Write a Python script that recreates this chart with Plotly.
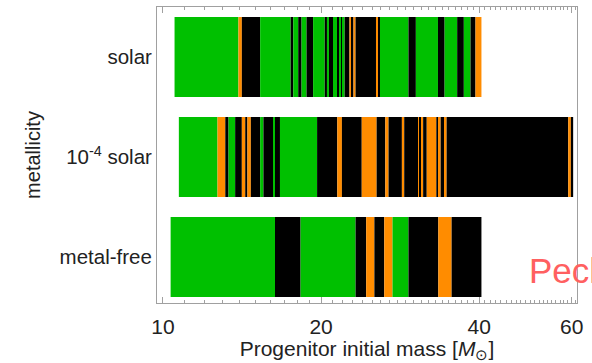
import plotly.graph_objects as go

# Outcome codes: G = explosion (green), B = black hole (black), O = fallback (orange)
categories = ["metal-free", "10<sup>-4</sup> solar", "solar"]

solar_edges = [10.52, 13.92, 14.13, 15.31, 17.50, 17.70, 18.09, 18.36, 18.76, 19.31,
               20.32, 20.52, 20.70, 21.07, 21.53, 21.69, 21.85, 22.00, 22.17, 22.65,
               22.88, 23.05, 23.26, 25.44, 25.73, 25.89, 29.33, 30.30, 33.38, 34.37,
               36.31, 37.39, 38.50, 39.35, 40.39]
solar_outcome = ["G", "O", "B", "G", "B", "G", "B", "G", "B", "G",
                 "B", "G", "B", "G", "B", "G", "B", "G", "B", "O",
                 "B", "O", "B", "O", "B", "G", "B", "G", "B", "G",
                 "B", "G", "B", "O"]

lowz_edges = [10.72, 12.70, 13.14, 13.33, 13.72, 14.13, 14.34, 14.48, 14.70, 15.31,
              15.53, 16.22, 16.34, 16.70, 19.65, 21.47, 21.91, 23.90, 25.51, 26.50,
              26.88, 28.50, 28.79, 30.64, 30.83, 31.04, 31.28, 31.78, 33.14, 33.53,
              33.78, 34.37, 34.67, 59.08, 59.78, 60.38]
lowz_outcome = ["G", "O", "B", "G", "B", "O", "B", "O", "B", "G",
                "B", "G", "B", "G", "B", "O", "B", "O", "B", "O",
                "B", "O", "B", "O", "B", "O", "B", "O", "B", "O",
                "B", "O", "B", "O", "B"]

zerom_edges = [10.34, 16.34, 18.28, 23.26, 24.37, 25.26, 26.38, 27.35, 29.33, 33.43,
               35.44, 40.39]
zerom_outcome = ["G", "B", "G", "B", "O", "B", "O", "G", "B", "O", "B"]

outcome_colors = {"G": "#00c000", "B": "#000000", "O": "#ff8c00"}

x_tick_vals = [10, 20, 40, 60]
x_minor_vals = [m for m in range(11, 62) if m not in x_tick_vals]

fig = go.Figure()

def add_row(cat, edges, outcome):
    starts = edges[:-1]
    widths = [b - a for a, b in zip(edges[:-1], edges[1:])]
    fig.add_trace(go.Bar(
        y=[cat] * len(starts), x=widths, base=starts, orientation="h",
        marker=dict(color=[outcome_colors[o] for o in outcome], line=dict(width=0)),
        width=0.8, showlegend=False, hoverinfo="skip"))

add_row(categories[2], solar_edges, solar_outcome)
add_row(categories[1], lowz_edges, lowz_outcome)
add_row(categories[0], zerom_edges, zerom_outcome)

font_family = "Liberation Sans, Arial, Helvetica, sans-serif"
axis_grey = "#a0a0a0"
text_col = "#222222"

fig.update_layout(
    width=592, height=363,
    margin=dict(l=157, r=15, t=7, b=60),
    paper_bgcolor="white", plot_bgcolor="white",
    barmode="overlay",
    font=dict(family=font_family, size=19, color=text_col),
    xaxis=dict(
        type="log", range=[0.9886, 1.7882], automargin=False,
        tickmode="array", tickvals=x_tick_vals, ticktext=[str(v) for v in x_tick_vals],
        ticks="inside", ticklen=6, tickwidth=1, tickcolor=axis_grey,
        minor=dict(tickmode="array", tickvals=x_minor_vals, ticks="inside",
                   ticklen=3, tickwidth=1, tickcolor=axis_grey),
        showline=True, linecolor=axis_grey, linewidth=1, mirror="allticks",
        showgrid=False, zeroline=False, ticklabelstandoff=5,
        tickfont=dict(size=21, color=text_col),
        title=dict(text="Progenitor initial mass [<i>M</i><sub>⊙</sub>]",
                   font=dict(size=21, color=text_col), standoff=6),
    ),
    yaxis=dict(
        type="category", categoryorder="array", categoryarray=categories,
        range=[-0.46, 2.5], automargin=False,
        ticks="", showline=True, linecolor=axis_grey, linewidth=1, mirror=True,
        showgrid=False, zeroline=False,
        tickfont=dict(size=20.5, color=text_col),
        title=dict(text="metallicity", font=dict(size=20, color=text_col), standoff=13),
    ),
    annotations=[dict(
        text="Pech", xref="paper", yref="paper", x=0.88, y=0.11,
        xanchor="left", yanchor="middle", showarrow=False,
        font=dict(size=35, color="#ff6060", family=font_family))],
)

fig.write_html("out.html", config={"displayModeBar": False},
               post_script="document.body.style.margin='0px';document.body.style.padding='0px';")
